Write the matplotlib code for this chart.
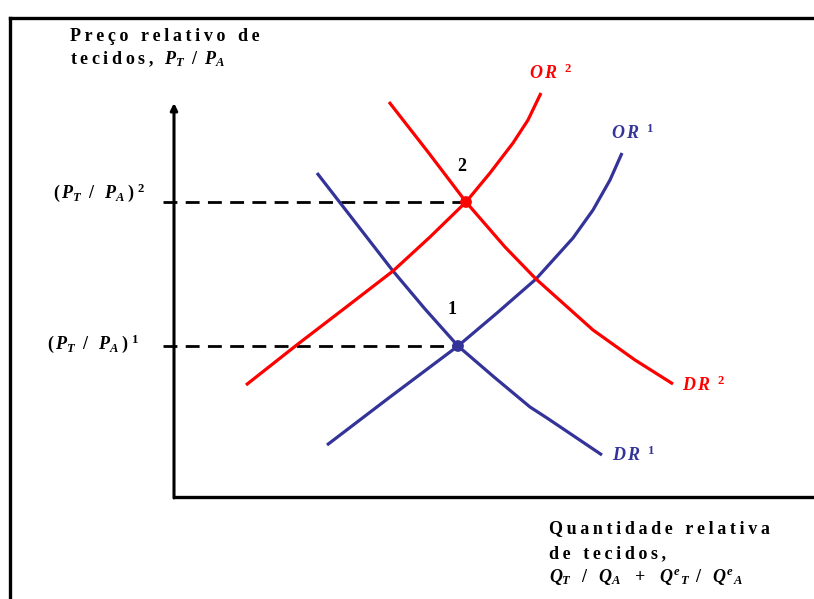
import matplotlib
matplotlib.use("Agg")
import matplotlib.pyplot as plt
from matplotlib.lines import Line2D

# Fonte serifada em negrito, como no original
plt.rcParams["font.family"] = ["Liberation Serif", "DejaVu Serif"]
plt.rcParams["font.weight"] = "bold"
plt.rcParams["mathtext.fontset"] = "custom"
plt.rcParams["mathtext.rm"] = "Liberation Serif:bold"
plt.rcParams["mathtext.bf"] = "Liberation Serif:bold"
plt.rcParams["mathtext.it"] = "Liberation Serif:italic:bold"

# Curvas (quantidade relativa, preco relativo)
dr1_x = [143, 181, 219, 251, 284, 320, 356, 373, 428]
dr1_y = [324, 275, 226, 188, 151, 120, 90, 79, 42]
or1_x = [153, 216, 284, 323, 362, 399, 419, 436, 448]
or1_y = [52, 100, 151, 184, 218, 259, 287, 317, 344]
or2_x = [72, 124, 171, 219, 256, 292, 316, 339, 354, 367]
or2_y = [112, 153, 189, 226, 260, 295, 324, 354, 377, 404]
dr2_x = [215, 254, 292, 331, 362, 419, 461, 499]
dr2_y = [395, 345, 295, 250, 218, 167, 137, 113]

# Equilibrios 1 e 2
eq_x = [284, 292]
eq_y = [151, 295]
eq_labels = ["1", "2"]

AZUL = "#333399"
VERMELHO = "#FF0000"
FS = 13


def sp(s):
    # espacamento entre letras (simula o tracking largo do original)
    words = s.split(" ")
    return "  \u2009".join("\u2009".join(w) for w in words)


fig = plt.figure(figsize=(8.14, 5.99), dpi=100)
fig.patch.set_facecolor("white")
ax = fig.add_axes([174 / 814, 102 / 599, 640 / 814, 394 / 599])
ax.set_xlim(0, 640)
ax.set_ylim(0, 394)
ax.axis("off")

# moldura (topo e esquerda)
fig.add_artist(Line2D([9.5 / 814, 1], [1 - 17.5 / 599] * 2, color="black", lw=2.4))
fig.add_artist(Line2D([9.5 / 814] * 2, [0, 1 - 17.5 / 599], color="black", lw=2.4))

# eixos
ax.plot([0, 640], [0, 0], color="black", lw=2.4, clip_on=False, solid_capstyle="butt")
ax.annotate("", xy=(0, 394), xytext=(0, -1),
            arrowprops=dict(arrowstyle="-|>", lw=2.2, color="black", mutation_scale=10,
                            shrinkA=0, shrinkB=0))

# linhas tracejadas ate os equilibrios
for x, y in zip(eq_x, eq_y):
    ax.plot([-11, x], [y, y], color="black", lw=2, ls=(0, (5, 3)), clip_on=False)

# curvas de oferta e demanda relativas
for cx, cy, cor in [(dr1_x, dr1_y, AZUL), (or1_x, or1_y, AZUL),
                    (or2_x, or2_y, VERMELHO), (dr2_x, dr2_y, VERMELHO)]:
    ax.plot(cx, cy, color=cor, lw=2.3, solid_capstyle="butt",
            solid_joinstyle="round", clip_on=False)

ax.scatter(eq_x, eq_y, s=55, color=[AZUL, VERMELHO], zorder=5, clip_on=False)
ax.text(eq_x[0] - 6, eq_y[0] + 37, eq_labels[0], fontsize=FS, ha="center", va="center")
ax.text(eq_x[1] - 4, eq_y[1] + 36, eq_labels[1], fontsize=FS, ha="center", va="center")

# rotulos das curvas
ax.text(355, 418, r"$O\,R\;\;^{2}$", color=VERMELHO, fontsize=FS, clip_on=False)
ax.text(437, 358, r"$O\,R\;\;^{1}$", color=AZUL, fontsize=FS)
ax.text(508, 106, r"$D\,R\;\;^{2}$", color=VERMELHO, fontsize=FS)
ax.text(438, 36, r"$D\,R\;\;^{1}$", color=AZUL, fontsize=FS)

# rotulo do eixo vertical
ax.text(-104, 456, sp("Preço relativo de"), fontsize=FS, clip_on=False)
ax.text(-104, 433, sp("tecidos,") + r"$\;\;\;P_{T}\;\;/\;\;P_{A}$", fontsize=FS, clip_on=False)

# precos de equilibrio
ax.text(-29, 299, r"$(\,P_{T}\;\;/\;\;\;P_{A}\,)\;^{2}$", fontsize=FS, ha="right", clip_on=False)
ax.text(-35, 148, r"$(\,P_{T}\;\;/\;\;\;P_{A}\,)\;^{1}$", fontsize=FS, ha="right", clip_on=False)

# rotulo do eixo horizontal
ax.text(375, -36, sp("Quantidade relativa"), fontsize=FS, clip_on=False)
ax.text(375, -61, sp("de tecidos,"), fontsize=FS, clip_on=False)
ax.text(375, -85,
        r"$Q_{T}\;\;\;/\;\;\;Q_{A}\;\;\;+\;\;\;Q^{e}{}_{T}\;\;/\;\;\;Q^{e}{}_{A}$",
        fontsize=FS, clip_on=False)

fig.savefig("out.png", dpi=100)
